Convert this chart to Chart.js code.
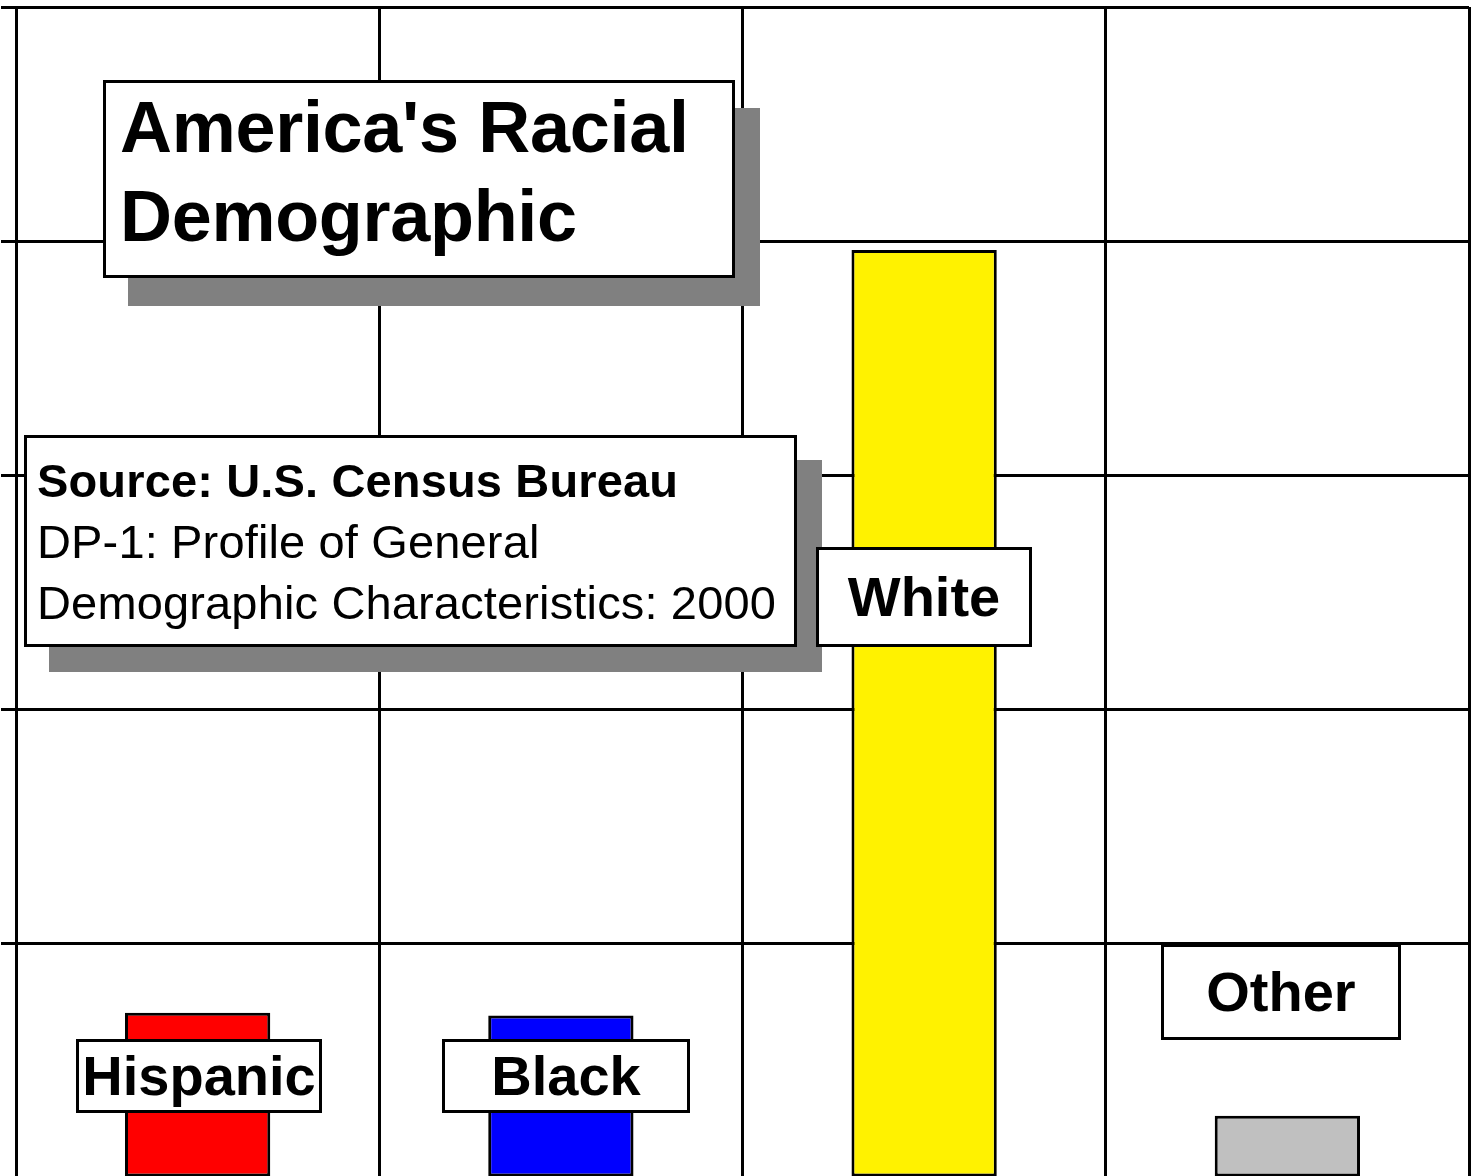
<!DOCTYPE html>
<html>
<head>
<meta charset="utf-8">
<script src="https://cdn.jsdelivr.net/npm/chart.js@4.4.1/dist/chart.umd.min.js"></script>
<style>
  html, body { margin: 0; padding: 0; background: #fff; overflow: hidden; width: 1474px; height: 1176px; }
  #wrap { position: relative; width: 1474px; height: 1176px; overflow: hidden; }
  #chart { position: absolute; left: 0; top: 0; }
  .box { position: absolute; box-sizing: border-box; background: #fff; border: 3px solid #000;
         font-family: "Liberation Sans", Arial, sans-serif; color: #000; white-space: nowrap; }
  #title { left: 103px; top: 80px; width: 632px; height: 198px; box-shadow: 25px 28px 0 #808080;
           font-weight: bold; font-size: 72px; line-height: 89px; padding-left: 14px; letter-spacing: -0.3px; z-index: 2; }
  #source { left: 24px; top: 435px; width: 773px; height: 212px; box-shadow: 25px 25px 0 #808080;
            font-size: 47px; line-height: 61px; padding: 12px 0 0 10px; letter-spacing: 0.15px; z-index: 2; }
  #source b { font-weight: bold; }
  .lbl { font-weight: bold; font-size: 56px; text-align: center; z-index: 3; }
</style>
</head>
<body>
<div id="wrap">
  <canvas id="chart" width="1474" height="1180"></canvas>
  <div id="title" class="box">America's Racial<br>Demographic</div>
  <div id="source" class="box"><b>Source: U.S. Census Bureau</b><br>DP-1: Profile of General<br>Demographic Characteristics: 2000</div>
</div>
<script>
// ---- data (population, millions, Census 2000) ----
const categories = ["Hispanic", "Black", "White", "Other"];
const populationMillions = [35.3, 34.7, 198.1, 13.3];
const yTickValues = [0, 50, 100, 150, 200, 250];

// ---- styling / annotation layout (kept apart from the data) ----
const barColors = ["#FF0000", "#0000FF", "#FFF200", "#C0C0C0"];
const labelAnchorValue = [21.8, 21.8, 124.1, 39.7];   // label box centre, in axis units
const labelBoxSize = [[246, 74], [248, 74], [216, 100], [240, 96]];
const labelShiftX = [1, 5, 0, -6];

const boxLabelPlugin = {
  id: 'boxLabels',
  afterDraw(chart) {
    const meta = chart.getDatasetMeta(0);
    const yScale = chart.scales.y;
    const wrap = document.getElementById('wrap');
    meta.data.forEach((bar, i) => {
      let el = document.getElementById('lbl' + i);
      if (!el) {
        el = document.createElement('div');
        el.id = 'lbl' + i;
        el.className = 'box lbl';
        el.textContent = chart.data.labels[i];
        wrap.appendChild(el);
      }
      const w = labelBoxSize[i][0], h = labelBoxSize[i][1];
      const cy = yScale.getPixelForValue(labelAnchorValue[i]);
      el.style.width = w + 'px';
      el.style.height = h + 'px';
      el.style.lineHeight = (h - 6) + 'px';
      el.style.left = Math.round(bar.x + labelShiftX[i] - w / 2) + 'px';
      el.style.top = Math.round(cy - h / 2) + 'px';
    });
  }
};

new Chart(document.getElementById('chart'), {
  type: 'bar',
  data: {
    labels: categories,
    datasets: [{
      data: populationMillions,
      backgroundColor: barColors,
      borderColor: '#000',
      borderWidth: 3,
      borderSkipped: false,
      categoryPercentage: 0.8,
      barPercentage: 0.5
    }]
  },
  options: {
    responsive: false,
    animation: false,
    devicePixelRatio: 1,
    layout: { padding: { left: 1, top: 7, right: 5, bottom: 2 } },
    plugins: { legend: { display: false }, tooltip: { enabled: false }, title: { display: false } },
    scales: {
      x: {
        offset: true,
        grid: { display: true, offset: true, color: '#000', lineWidth: 3, drawTicks: false },
        border: { display: true, color: '#000', width: 3 },
        ticks: { display: false }
      },
      y: {
        min: 0,
        max: 250,
        afterBuildTicks(scale) { scale.ticks = yTickValues.map(v => ({ value: v })); },
        grid: { color: '#000', lineWidth: 3, drawTicks: true, tickLength: 15 },
        border: { display: true, color: '#000', width: 3 },
        ticks: { display: false }
      }
    }
  },
  plugins: [boxLabelPlugin]
});
</script>
</body>
</html>
